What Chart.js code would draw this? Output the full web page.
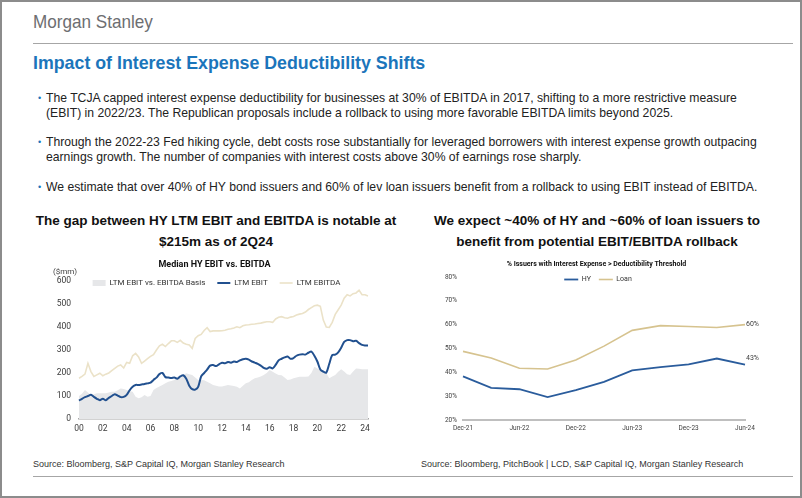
<!DOCTYPE html>
<html>
<head>
<meta charset="utf-8">
<script src="https://cdn.jsdelivr.net/npm/chart.js@4.4.1/dist/chart.umd.min.js"></script>
<style>
  html, body { margin: 0; padding: 0; background: #fff; }
  body { width: 802px; height: 498px; position: relative; overflow: hidden;
         font-family: "Liberation Sans", Arial, sans-serif; color: #222; }
  .frame { position: absolute; left: 0; top: 0; width: 798px; height: 494px; border: 2px solid #8c8c8c; }
  .logo { position: absolute; left: 33px; top: 11px; font-size: 19px; line-height: 22px; color: #6d6e71;
          white-space: nowrap; transform: scaleX(0.9); transform-origin: left center; }
  .rule { position: absolute; left: 33px; width: 760px; height: 1px; background: #a6a6a6; }
  .title { position: absolute; left: 33px; top: 53px; font-size: 17.8px; line-height: 20px; font-weight: bold;
           color: #1b75bb; white-space: nowrap; }
  .bullet { position: absolute; left: 46px; font-size: 12.2px; line-height: 15px; color: #222; white-space: nowrap; }
  .bullet::before { content: "\2022"; position: absolute; left: -8px; top: 0; color: #1b75bb; font-size: 9px; }
  .ctitle { position: absolute; width: 400px; text-align: center; font-weight: bold; font-size: 13.5px;
            line-height: 21px; color: #111; }
  .source { position: absolute; top: 458px; font-size: 9px; line-height: 12px; color: #333; white-space: nowrap; }
  canvas { position: absolute; }
</style>
</head>
<body>
<div class="frame"></div>
<div class="logo">Morgan Stanley</div>
<div class="rule" style="top:43px"></div>
<div class="title">Impact of Interest Expense Deductibility Shifts</div>

<div class="bullet" style="top:91px">The TCJA capped interest expense deductibility for businesses at 30% of EBITDA in 2017, shifting to a more restrictive measure<br>(EBIT) in 2022/23. The Republican proposals include a rollback to using more favorable EBITDA limits beyond 2025.</div>
<div class="bullet" style="top:135px">Through the 2022-23 Fed hiking cycle, debt costs rose substantially for leveraged borrowers with interest expense growth outpacing<br>earnings growth. The number of companies with interest costs above 30% of earnings rose sharply.</div>
<div class="bullet" style="top:180px">We estimate that over 40% of HY bond issuers and 60% of lev loan issuers benefit from a rollback to using EBIT instead of EBITDA.</div>

<div class="ctitle" style="left:16px; top:210px">The gap between HY LTM EBIT and EBITDA is notable at<br>$215m as of 2Q24</div>
<div class="ctitle" style="left:397px; top:210px">We expect ~40% of HY and ~60% of loan issuers to<br>benefit from potential EBIT/EBITDA rollback</div>

<canvas id="leftChart" style="left:20px; top:255px" width="365" height="190"></canvas>
<canvas id="rightChart" style="left:420px; top:255px" width="370" height="190"></canvas>

<div class="source" style="left:33px">Source: Bloomberg, S&amp;P Capital IQ, Morgan Stanley Research</div>
<div class="source" style="left:421px">Source: Bloomberg, PitchBook | LCD, S&amp;P Capital IQ, Morgan Stanley Research</div>
<div class="rule" style="top:476px"></div>

<script>
'use strict';

// Left chart: median HY LTM EBIT vs EBITDA, quarterly 2000Q1 - 2024Q2 ($mm)
let quarters = [];
for (let y = 2000; y <= 2024; y++) {
  for (let q = 1; q <= 4; q++) {
    if (y === 2024 && q > 2) break;
    quarters.push(y + 'Q' + q);
  }
}

let ltmEbit = [
  80, 88, 95, 100,   105, 96, 88, 82,    88, 82, 92, 100,   108, 102, 95, 96,
  105, 125, 140, 148, 148, 150, 152, 155, 158, 170, 180, 195, 200, 182, 180, 178,
  180, 175, 185, 190, 175, 145, 130, 128, 140, 185, 200, 215, 232, 235, 230, 238,
  245, 242, 248, 245, 250, 248, 255, 260, 262, 258, 250, 245, 240, 232, 222, 218,
  225, 220, 235, 255, 262, 268, 272, 262, 265, 275, 280, 282, 280, 288, 293, 275,
  250, 215, 206, 202, 240, 278, 280, 290, 310, 335, 343, 343, 338, 340, 330, 322,
  320, 320
];

let ltmEbitda = [
  177, 185, 195, 242, 206, 185, 192, 199, 188, 195, 200, 210, 220, 230, 235, 222,
  246, 242, 275, 285, 270, 242, 252, 262, 272, 280, 300, 318, 325, 315, 328, 340,
  340, 333, 342, 330, 325, 322, 307, 350, 362, 368, 385, 397, 380, 383, 383, 383,
  384, 386, 390, 392, 396, 401, 397, 405, 409, 410, 412, 413, 415, 417, 420, 423,
  423, 420, 435, 442, 445, 440, 438, 443, 446, 452, 456, 459, 465, 476, 484, 492,
  495, 490, 430, 400, 398, 420, 455, 475, 495, 525, 540, 535, 545, 548, 560, 540,
  540, 535
];

let ebitdaBasis = [
  100, 110, 126, 115, 104, 108, 112, 112, 112, 112, 115, 119, 119, 125, 133, 130,
  126, 122, 119, 97,  90, 95, 104, 97,   100, 126, 135, 141, 148, 155, 162, 165,
  170, 184, 188, 191, 199, 195, 191, 180, 170, 170, 168, 162, 155, 148, 145, 141,
  141, 145, 148, 146, 144, 140, 133, 145, 155, 160, 170, 177, 180, 185, 191, 200,
  213, 205, 198, 191, 190, 180, 170, 172, 177, 180, 184, 184, 184, 185, 200, 227,
  220, 213, 206, 200, 177, 185, 191, 205, 216, 206, 195, 191, 206, 220, 218, 216,
  216, 216
];

let leftTicks = [0, 100, 200, 300, 400, 500, 600];

// Right chart: % issuers with interest expense > deductibility threshold
let periods = ['Dec-21', 'Mar-22', 'Jun-22', 'Sep-22', 'Dec-22', 'Mar-23', 'Jun-23', 'Sep-23', 'Dec-23', 'Mar-24', 'Jun-24'];
let hyShare   = [38.3, 33.5, 32.9, 29.6, 32.5, 36.0, 40.8, 42.2, 43.3, 45.8, 43.2];
let loanShare = [48.8, 46.0, 41.7, 41.4, 45.2, 51.0, 57.6, 59.6, 59.2, 58.8, 60.0];
let rightTicks = [20, 30, 40, 50, 60, 70, 80];

const chartFont = 'Roboto, "Liberation Sans", sans-serif';

// let the legend sit over the top of the plot area, and nudge title/legend sideways
const tuckLegend = {
  id: 'tuckLegend',
  beforeInit(chart) {
    const fit = chart.legend.fit;
    chart.legend.fit = function () {
      fit.call(this);
      this.height -= chart.options.plugins.tuckLegend.by;
    };
  },
  afterLayout(chart, args, opts) {
    const legend = chart.legend;
    legend.height += opts.by;
    legend.bottom += opts.by;
    legend.left += opts.legendDx;
    legend.right += opts.legendDx;
    chart.titleBlock.left += opts.titleDx;
    chart.titleBlock.right += opts.titleDx;
  }
};

// "($mm)" unit label above the y axis
const unitLabel = {
  id: 'unitLabel',
  afterDraw(chart, args, opts) {
    const ctx = chart.ctx;
    ctx.save();
    ctx.font = '8px ' + chartFont;
    ctx.fillStyle = '#404040';
    ctx.textAlign = 'right';
    ctx.textBaseline = 'middle';
    ctx.fillText(opts.text, chart.chartArea.left - 2, chart.chartArea.top - 9);
    ctx.restore();
  }
};

// value labels at the end of each line
const endLabels = {
  id: 'endLabels',
  afterDatasetsDraw(chart, args, opts) {
    const ctx = chart.ctx;
    ctx.save();
    ctx.font = '7px ' + chartFont;
    ctx.fillStyle = '#404040';
    ctx.textAlign = 'left';
    ctx.textBaseline = 'middle';
    chart.data.datasets.forEach(function (ds, i) {
      let meta = chart.getDatasetMeta(i);
      let last = meta.data[meta.data.length - 1];
      let v = ds.data[ds.data.length - 1];
      ctx.fillText(Math.round(v) + '%', last.x + 1, last.y + opts.dy[i]);
    });
    ctx.restore();
  }
};

function makeLeftChart() {
  const ctx = document.getElementById('leftChart').getContext('2d');
  new Chart(ctx, {
    type: 'line',
    data: {
      labels: quarters,
      datasets: [
        {
          label: 'LTM EBIT vs. EBITDA Basis',
          data: ebitdaBasis,
          fill: 'origin',
          backgroundColor: '#e6e7e9',
          borderColor: '#e6e7e9',
          borderWidth: 0,
          pointRadius: 0,
          pointStyle: 'rect',
          tension: 0,
          order: 3
        },
        {
          label: 'LTM EBIT',
          data: ltmEbit,
          borderColor: '#21508f',
          backgroundColor: '#21508f',
          borderWidth: 2,
          pointRadius: 0,
          pointStyle: 'line',
          tension: 0.3,
          order: 1
        },
        {
          label: 'LTM EBITDA',
          data: ltmEbitda,
          borderColor: '#ebe2c8',
          backgroundColor: '#ebe2c8',
          borderWidth: 1.6,
          pointRadius: 0,
          pointStyle: 'line',
          tension: 0,
          order: 2
        }
      ]
    },
    options: {
      responsive: false,
      animation: false,
      layout: { padding: { left: 29, right: 17, top: 0, bottom: 0 } },
      plugins: {
        title: {
          display: true,
          text: 'Median HY EBIT vs. EBITDA',
          color: '#111',
          font: { family: chartFont, size: 9, weight: 'bold' },
          padding: { top: 4.6, bottom: -3.4 }
        },
        legend: {
          labels: {
            usePointStyle: true,
            pointStyleWidth: 13,
            boxHeight: 6,
            padding: 12,
            color: '#333',
            font: { family: chartFont, size: 8 },
            sort: function (a, b) { return a.datasetIndex - b.datasetIndex; }
          }
        },
        tuckLegend: { by: 16, titleDx: 6, legendDx: 8 },
        unitLabel: { text: '($mm)' },
        tooltip: { enabled: false }
      },
      scales: {
        x: {
          grid: { display: false, drawTicks: false },
          border: { display: true, color: '#a6a6a6', width: 1.5 },
          ticks: {
            autoSkip: false,
            maxRotation: 0,
            padding: 5,
            color: '#3a3a3a',
            font: { family: chartFont, size: 8.5 },
            callback: function (value, index) {
              let q = quarters[index];
              let year = parseInt(q.slice(0, 4), 10);
              if (q.slice(4) === 'Q1' && year % 2 === 0) return q.slice(2, 4);
              return '';
            }
          },
          afterFit: function (scale) { scale.height = 26; }
        },
        y: {
          min: leftTicks[0],
          max: leftTicks[leftTicks.length - 1],
          grid: { display: false, drawTicks: false },
          border: { display: false },
          ticks: {
            stepSize: 100,
            padding: 8,
            color: '#3a3a3a',
            font: { family: chartFont, size: 8.5 }
          },
          afterFit: function (scale) { scale.width = 30; }
        }
      }
    },
    plugins: [tuckLegend, unitLabel]
  });
}

function makeRightChart() {
  const ctx = document.getElementById('rightChart').getContext('2d');
  new Chart(ctx, {
    type: 'line',
    data: {
      labels: periods,
      datasets: [
        {
          label: 'HY',
          data: hyShare,
          borderColor: '#2a5c9c',
          backgroundColor: '#2a5c9c',
          borderWidth: 1.8,
          pointRadius: 0,
          pointStyle: 'line',
          tension: 0
        },
        {
          label: 'Loan',
          data: loanShare,
          borderColor: '#d6c38f',
          backgroundColor: '#d6c38f',
          borderWidth: 1.6,
          pointRadius: 0,
          pointStyle: 'line',
          tension: 0
        }
      ]
    },
    options: {
      responsive: false,
      animation: false,
      layout: { padding: { left: 21, right: 45, top: 0, bottom: 0 } },
      plugins: {
        title: {
          display: true,
          text: '% Issuers with Interest Expense > Deductibility Threshold',
          color: '#111',
          font: { family: chartFont, size: 7, weight: 'bold' },
          padding: { top: 4.8, bottom: -0.2 }
        },
        legend: {
          labels: {
            usePointStyle: true,
            pointStyleWidth: 14,
            boxHeight: 6,
            padding: 8,
            color: '#333',
            font: { family: chartFont, size: 7 }
          }
        },
        tuckLegend: { by: 16, titleDx: 3.5, legendDx: 5 },
        endLabels: { dy: [-6, 0] },
        tooltip: { enabled: false }
      },
      scales: {
        x: {
          grid: { display: false, drawTicks: false },
          border: { display: true, color: '#bfbfbf', width: 2 },
          ticks: {
            autoSkip: false,
            maxRotation: 0,
            padding: 4,
            color: '#404040',
            font: { family: chartFont, size: 6.5 },
            callback: function (value, index) {
              return index % 2 === 0 ? periods[index] : '';
            }
          },
          afterFit: function (scale) { scale.height = 25; }
        },
        y: {
          min: rightTicks[0],
          max: rightTicks[rightTicks.length - 1],
          grid: { display: false, drawTicks: false },
          border: { display: false },
          ticks: {
            stepSize: 10,
            padding: 6,
            color: '#404040',
            font: { family: chartFont, size: 6.5 },
            callback: function (value) { return value + '%'; }
          },
          afterFit: function (scale) { scale.width = 22; }
        }
      }
    },
    plugins: [tuckLegend, endLabels]
  });
}

makeLeftChart();
makeRightChart();
</script>
</body>
</html>
